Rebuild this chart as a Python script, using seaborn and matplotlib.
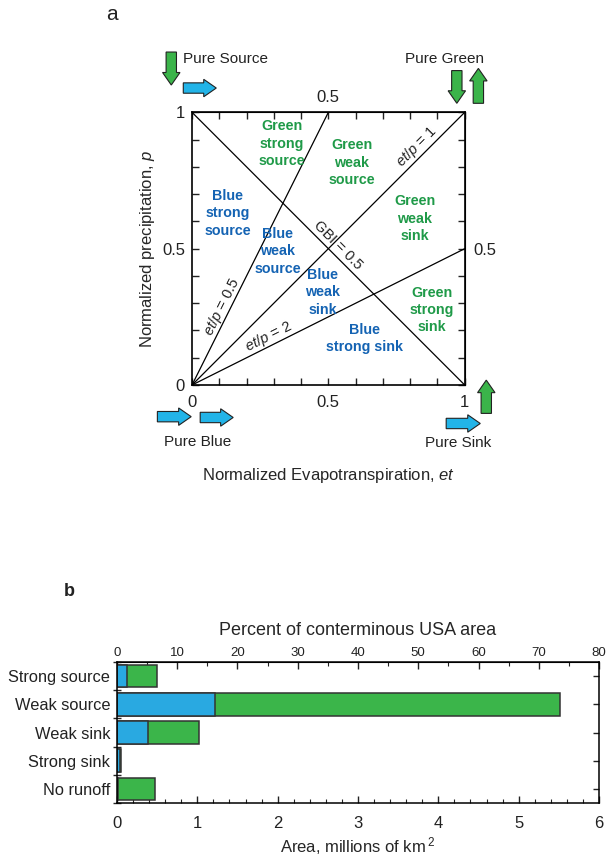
import numpy as np
import pandas as pd
import matplotlib
matplotlib.use("Agg")
import matplotlib.pyplot as plt
from matplotlib.patches import FancyArrow
from matplotlib.ticker import MultipleLocator, FixedLocator, FuncFormatter
import seaborn as sns

# panel a: lines that split the unit et-p square
line_names = ["et/p = 0.5", "et/p = 1", "et/p = 2", "GBI = 0.5"]
line_et = [[0, 0.5], [0, 1], [0, 1], [0, 1]]
line_p = [[0, 1], [0, 1], [0, 0.5], [1, 0]]

line_label_text = [r"$\mathit{et/p}$ = 0.5", r"$\mathit{et/p}$ = 1", r"$\mathit{et/p}$ = 2", "GBI = 0.5"]
line_label_et = [0.109, 0.823, 0.28, 0.535]
line_label_p = [0.287, 0.873, 0.176, 0.513]
line_label_rot = [63.4, 45, 26.6, -45]

region_labels = ["Green\nstrong\nsource", "Green\nweak\nsource", "Blue\nstrong\nsource",
                 "Blue\nweak\nsource", "Green\nweak\nsink", "Blue\nweak\nsink",
                 "Green\nstrong\nsink", "Blue\nstrong sink"]
region_et = [0.33, 0.585, 0.13, 0.315, 0.817, 0.48, 0.88, 0.634]
region_p = [0.885, 0.815, 0.63, 0.49, 0.61, 0.34, 0.275, 0.17]
region_kind = ["green", "green", "blue", "blue", "green", "blue", "green", "blue"]

# end-member arrows (x, y, dx, dy, kind), in panel a units
arrow_specs = [
    (-0.076, 1.221, 0, -0.121, "green"),
    (-0.032, 1.089, 0.121, 0, "blue"),
    (0.971, 1.153, 0, -0.120, "green"),
    (1.050, 1.033, 0, 0.128, "green"),
    (-0.127, -0.116, 0.124, 0, "blue"),
    (0.030, -0.119, 0.121, 0, "blue"),
    (0.932, -0.141, 0.125, 0, "blue"),
    (1.079, -0.104, 0, 0.122, "green"),
]
corner_names = ["Pure Source", "Pure Green", "Pure Blue", "Pure Sink"]
corner_et = [-0.032, 0.927, 0.021, 0.974]
corner_p = [1.196, 1.195, -0.208, -0.213]
corner_ha = ["left", "center", "center", "center"]

# panel b: area by class, millions of km2
categories = ["Strong source", "Weak source", "Weak sink", "Strong sink", "No runoff"]
blue_area = [0.13, 1.225, 0.38, 0.04, 0.015]
green_area = [0.37, 4.285, 0.64, 0.01, 0.46]
pct_ticks = [0, 10, 20, 30, 40, 50, 60, 70, 80]

TEXT_GREEN = "#1f9a48"
TEXT_BLUE = "#1463b3"
ARROW_BLUE = "#22b4e8"
ARROW_GREEN = "#3bb44a"
BAR_BLUE = "#29a9e1"
BAR_GREEN = "#3bb54a"

sns.set_style("ticks")
plt.rcParams["font.family"] = ["Liberation Sans", "DejaVu Sans"]
plt.rcParams["mathtext.fontset"] = "custom"
plt.rcParams["mathtext.rm"] = "Liberation Sans"
plt.rcParams["mathtext.it"] = "Liberation Sans:italic"
plt.rcParams["axes.edgecolor"] = "black"
plt.rcParams["text.color"] = "#222222"

fig = plt.figure(figsize=(6.09, 8.56), dpi=100)

# ---------------- panel a ----------------
ax1 = fig.add_axes([0.3148, 0.5502, 0.4488, 0.3186])
lines_df = pd.DataFrame({
    "line": np.repeat(line_names, 2),
    "et": np.concatenate(line_et),
    "p": np.concatenate(line_p),
})
sns.lineplot(data=lines_df, x="et", y="p", units="line", estimator=None, sort=False,
             color="black", linewidth=0.9, ax=ax1)
ax1.set_xlim(0, 1)
ax1.set_ylim(0, 1)
ax1.set_aspect("equal")

ticks01 = np.round(np.arange(0, 1.01, 0.1), 1)
lab_main = lambda v, pos: {0.0: "0", 0.5: "0.5", 1.0: "1"}.get(round(v, 1), "")
ax1.xaxis.set_major_locator(FixedLocator(ticks01))
ax1.yaxis.set_major_locator(FixedLocator(ticks01))
ax1.xaxis.set_major_formatter(FuncFormatter(lab_main))
ax1.yaxis.set_major_formatter(FuncFormatter(lab_main))
ax1.tick_params(axis="x", direction="in", length=5, width=1, labelsize=12, pad=7, colors="#222222")
ax1.tick_params(axis="y", direction="in", length=5, width=1, labelsize=12, pad=5, colors="#222222")
for s in ax1.spines.values():
    s.set_linewidth(1.2)

lab_half = lambda v, pos: "0.5" if round(v, 1) == 0.5 else ""
top = ax1.secondary_xaxis("top")
top.xaxis.set_major_locator(FixedLocator(ticks01))
top.xaxis.set_major_formatter(FuncFormatter(lab_half))
top.tick_params(direction="in", length=5, width=1, labelsize=12, pad=5, colors="#222222")
right = ax1.secondary_yaxis("right")
right.yaxis.set_major_locator(FixedLocator(ticks01))
right.yaxis.set_major_formatter(FuncFormatter(lab_half))
right.tick_params(direction="in", length=5, width=1, labelsize=12, pad=6, colors="#222222")

ax1.set_xlabel(r"Normalized Evapotranspiration, $\mathit{et}$", fontsize=12)
ax1.set_ylabel(r"Normalized precipitation, $\mathit{p}$", fontsize=12)
ax1.xaxis.set_label_coords(0.5, -0.297)
ax1.yaxis.set_label_coords(-0.127, 0.5)

for txt, x, y, r in zip(line_label_text, line_label_et, line_label_p, line_label_rot):
    ax1.text(x, y, txt, rotation=r, rotation_mode="anchor", ha="center", va="center",
             fontsize=10.5)

for txt, x, y, k in zip(region_labels, region_et, region_p, region_kind):
    ax1.text(x, y, txt, ha="center", va="center", fontsize=10.3, fontweight="bold",
             linespacing=1.3, color=TEXT_GREEN if k == "green" else TEXT_BLUE)

for x, y, dx, dy, k in arrow_specs:
    ax1.add_patch(FancyArrow(x, y, dx, dy, width=0.038, head_width=0.064, head_length=0.046,
                             length_includes_head=True, clip_on=False, linewidth=0.8,
                             facecolor=ARROW_GREEN if k == "green" else ARROW_BLUE,
                             edgecolor="#222222"))

for txt, x, y, ha in zip(corner_names, corner_et, corner_p, corner_ha):
    ax1.text(x, y, txt, ha=ha, va="center", fontsize=11)

fig.text(112 / 609, 1 - 14 / 856, "a", fontsize=15, ha="center", va="center")

# ---------------- panel b ----------------
ax2 = fig.add_axes([0.1921, 0.0619, 0.7915, 0.1647])
bars = pd.DataFrame({
    "category": categories,
    "blue": blue_area,
    "total": np.array(blue_area) + np.array(green_area),
})
sns.barplot(data=bars, x="total", y="category", orient="h", color=BAR_GREEN, saturation=1,
            width=0.8, edgecolor="#333333", linewidth=1.1, ax=ax2)
sns.barplot(data=bars, x="blue", y="category", orient="h", color=BAR_BLUE, saturation=1,
            width=0.8, edgecolor="#333333", linewidth=1.1, ax=ax2)
ax2.set_xlim(0, 6)
ax2.set_ylim(4.5, -0.5)
ax2.set_ylabel("")
ax2.set_xlabel(r"Area, millions of km$\,^{2}$", fontsize=12, labelpad=3)
ax2.xaxis.set_major_locator(MultipleLocator(1))
ax2.xaxis.set_minor_locator(MultipleLocator(0.2))
ax2.tick_params(axis="x", which="both", direction="in", bottom=True, top=False,
                labelsize=12, pad=9, colors="#222222")
ax2.tick_params(axis="x", which="major", length=5, width=1)
ax2.tick_params(axis="x", which="minor", length=3, width=0.8)
ax2.yaxis.set_minor_locator(FixedLocator(np.arange(-0.5, 4.6, 1)))
ax2.tick_params(axis="y", which="major", left=False, right=True, direction="in",
                length=4, width=1, labelsize=11.8, pad=5, colors="#222222")
ax2.tick_params(axis="y", which="minor", left=True, right=False, direction="inout",
                length=6, width=1)
for s in ax2.spines.values():
    s.set_visible(True)
    s.set_linewidth(1.1)

pct = ax2.secondary_xaxis("top", functions=(lambda a: a * 80 / 6, lambda q: q * 6 / 80))
pct.set_xticks(pct_ticks, [str(t) for t in pct_ticks])
pct.xaxis.set_minor_locator(FixedLocator(np.arange(5, 80, 10)))
pct.tick_params(which="both", direction="in", labelsize=9.5, pad=2, colors="#222222")
pct.tick_params(which="major", length=5, width=1)
pct.tick_params(which="minor", length=3, width=0.8)
pct.set_xlabel("Percent of conterminous USA area", fontsize=13, labelpad=9)

fig.text(69 / 609, 1 - 592 / 856, "b", fontsize=13, fontweight="bold", ha="center", va="center")

fig.savefig("out.png", dpi=100)
